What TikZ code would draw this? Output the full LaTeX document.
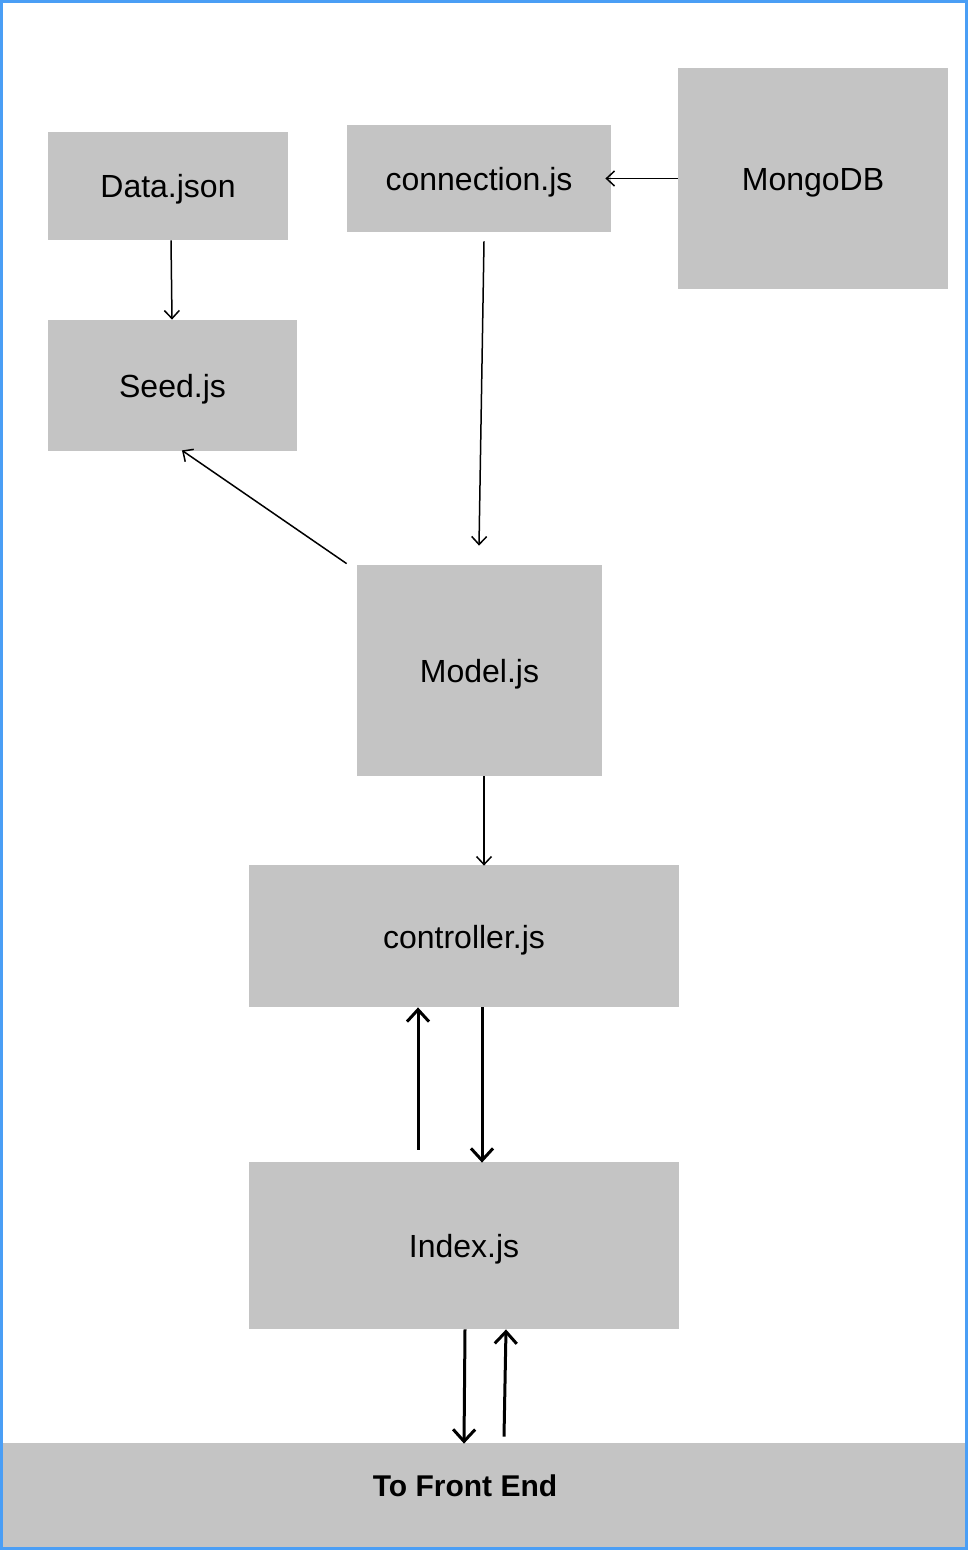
\documentclass[tikz,border=0pt]{standalone}
\usepackage{fontspec}
\setmainfont{Liberation Sans}
\usetikzlibrary{arrows.meta,calc,positioning}
\definecolor{boxgray}{HTML}{C4C4C4}
\definecolor{frameblue}{HTML}{4A9EF5}
\tikzset{
	block/.style={fill=boxgray, inner sep=0pt, text height=15.5pt, text depth=3.5pt,
		font=\fontsize{16}{19}\selectfont}, % grey boxes, no outline
	flow/.style={-{Straight Barb[length=4pt,width=7.5pt]}, line width=0.75pt},
	heavyflow/.style={-{Straight Barb[length=6pt,width=11pt]}, line width=1.5pt},
}

\begin{document}
\begin{tikzpicture}[x=0.5pt,y=-0.5pt]
			\useasboundingbox (0,0) rectangle (968,1550);
			
			% top row
			\node[block, minimum width=120pt, minimum height=54pt] (data) at (168,186) {Data.json};
			\node[block, minimum width=132pt, minimum height=53.5pt] (conn) at (479,178.5) {connection.js};
			\node[block, minimum width=135pt, minimum height=110.5pt] (mongo) at (813,178.5) {MongoDB};
			\node[block, minimum width=124.5pt, minimum height=65.5pt] (seed) at (172.5,385.5) {Seed.js};
			
			% middle column
			\node[block, minimum width=122.5pt, minimum height=105.5pt] (model) at (479.5,670.5) {Model.js};
			\node[block, minimum width=215pt, minimum height=71pt] (ctrl) at (464,936) {controller.js};
			\node[block, minimum width=215pt, minimum height=83.5pt] (index) at (464,1245.5) {Index.js};
			
			% bottom bar
			\node[block, minimum width=484pt, minimum height=53.5pt,
				label={[font=\fontsize{15}{18}\selectfont\bfseries, xshift=-9.5pt, yshift=5.5pt]center:To Front End}] (front) at (484,1496.5) {};
			
			% thin arrows
			\draw[flow] ($(data.south)+(3,0)$) -- ($(seed.north)+(-0.5,0)$);
			\draw[flow] (mongo.west) -- ($(conn.east)+(-6,0)$);
			\draw[flow] ($(conn.south)+(5,9)$) -- ($(model.north)+(-0.5,-19)$);
			\draw[flow] ($(model.north west)+(-10,-1)$) -- ($(seed.south)+(9.5,-1)$);
			\draw[flow] ($(model.south)+(4.5,0)$) -- ($(ctrl.north)+(20,1)$);
			
			% thick arrows
			\draw[heavyflow] ($(index.north)+(-46,-12)$) -- ($(ctrl.south)+(-46,0)$);
			\draw[heavyflow] ($(ctrl.south)+(18,0)$) -- ($(index.north)+(18,1)$);
			\draw[heavyflow] ($(index.south)+(1,0)$) -- ($(front.north)+(-20,1)$);
			\draw[heavyflow] ($(front.north)+(20,-6)$) -- ($(index.south)+(42,0)$);
			
			% outer frame
			\draw[frameblue, line width=1.5pt] (1.5,1.5) rectangle (966.5,1548.5);
\end{tikzpicture}
\end{document}
